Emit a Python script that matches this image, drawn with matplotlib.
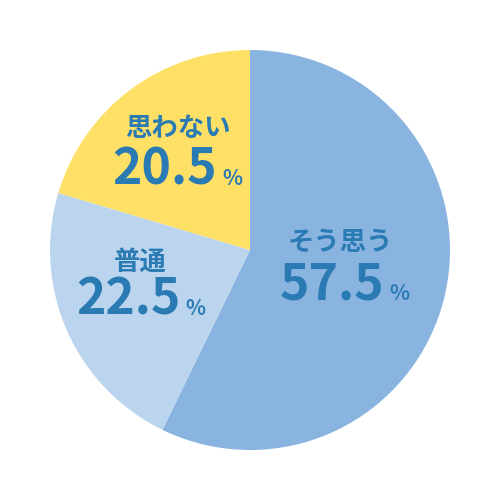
import matplotlib.pyplot as plt

plt.rcParams['font.family'] = ['Noto Sans CJK JP', 'DejaVu Sans']

labels = ['そう思う', '普通', '思わない']
values = [57.5, 22.5, 20.5]
colors = ['#8ab4e0', '#bcd5ef', '#ffe066']
# label anchor positions (pixels in 500x500 image)
label_px = [(340, 242), (140, 262), (178, 128)]
num_px = [(332, 285), (128, 300), (165, 170)]

textColor = '#2a7ab3'

fig = plt.figure(figsize=(5, 5), dpi=100)
ax = fig.add_axes([0, 0, 1, 1])
ax.pie(values, colors=colors, startangle=90, counterclock=False, radius=1,
       wedgeprops={'linewidth': 0})
ax.set_xlim(-1.25, 1.25)
ax.set_ylim(-1.25, 1.25)
ax.set_aspect('equal')
ax.axis('off')


def px(p):
    return ((p[0] - 250) / 200, (250 - p[1]) / 200)


for lab, v, lp, npx in zip(labels, values, label_px, num_px):
    x, y = px(lp)
    ax.text(x, y, lab, color=textColor, fontsize=19, fontweight='bold', ha='center', va='center')
    x, y = px(npx)
    t = ax.text(x, y, '%.1f' % v, color=textColor, fontsize=36, fontweight='bold', ha='center', va='center')
    ax.annotate('%', xy=(1, 0.12), xycoords=t, color=textColor, fontsize=15,
                fontweight='bold', ha='left', va='bottom', xytext=(4, 0), textcoords='offset points')

fig.savefig('out.png', dpi=100)
